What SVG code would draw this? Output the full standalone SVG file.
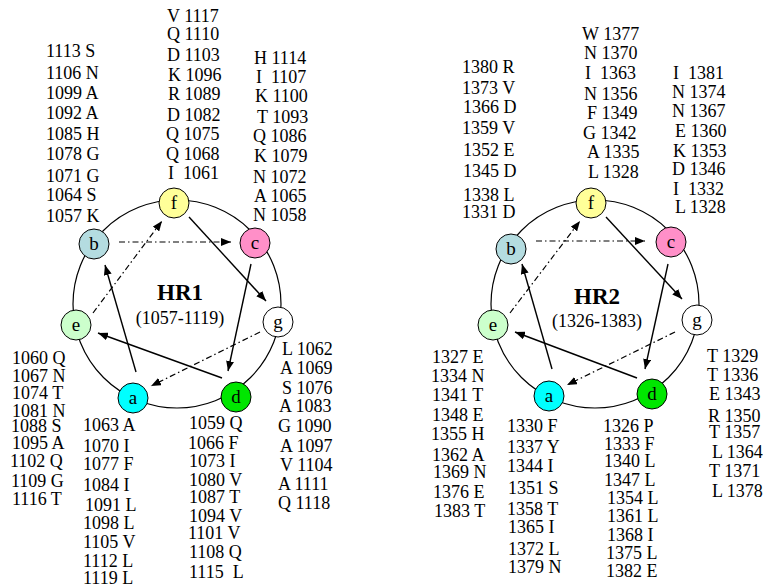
<svg xmlns="http://www.w3.org/2000/svg" width="764" height="587" viewBox="0 0 764 587">
<style>
text{font-family:"Liberation Serif","Times New Roman",serif;font-size:18px;fill:#000;white-space:pre}
.ring{fill:none;stroke:#000;stroke-width:1.2}
.node{stroke:#000;stroke-width:1}
.nl{text-anchor:middle;font-size:19px}
.title{font-weight:bold;font-size:23px;text-anchor:middle}
.range{text-anchor:middle}
.solid{stroke:#000;stroke-width:1.4;fill:none}
.dd{stroke:#000;stroke-width:1.2;fill:none;stroke-dasharray:6 3 1.5 3}
</style>
<defs>
<marker id="ah" markerUnits="userSpaceOnUse" markerWidth="10" markerHeight="8" refX="10" refY="4" orient="auto">
<path d="M0,0 L10,4 L0,8 z" fill="#000"/>
</marker>
</defs>
<rect width="764" height="587" fill="#fff"/>
<circle class="ring" cx="177" cy="304" r="104"/>
<circle class="ring" cx="595" cy="304" r="104"/>
<g id="connectors">
<line class="dd" x1="119" y1="242" x2="231" y2="242" marker-end="url(#ah)"/>
<line class="dd" x1="93" y1="313" x2="162" y2="221" marker-end="url(#ah)"/>
<line class="solid" x1="189" y1="217" x2="266" y2="301" marker-end="url(#ah)"/>
<line class="solid" x1="251" y1="264" x2="228" y2="371" marker-end="url(#ah)"/>
<line class="solid" x1="222" y1="378" x2="98" y2="333" marker-end="url(#ah)"/>
<line class="dd" x1="260" y1="332" x2="151" y2="386" marker-end="url(#ah)"/>
<line class="solid" x1="136" y1="372" x2="105" y2="265" marker-end="url(#ah)"/>
<line class="dd" x1="536" y1="241" x2="645" y2="241" marker-end="url(#ah)"/>
<line class="dd" x1="510" y1="313" x2="580" y2="221" marker-end="url(#ah)"/>
<line class="solid" x1="606" y1="217" x2="682" y2="299" marker-end="url(#ah)"/>
<line class="solid" x1="668" y1="264" x2="645" y2="369" marker-end="url(#ah)"/>
<line class="solid" x1="637" y1="378" x2="515" y2="332" marker-end="url(#ah)"/>
<line class="dd" x1="675" y1="332" x2="567" y2="385" marker-end="url(#ah)"/>
<line class="solid" x1="552" y1="369" x2="522" y2="264" marker-end="url(#ah)"/>
</g>
<g id="hr1-f"><circle class="node" cx="174" cy="203" r="15" fill="#FFFF99"/><text class="nl" x="174" y="209">f</text></g>
<g id="hr1-b"><circle class="node" cx="94" cy="244" r="15" fill="#B4DCE0"/><text class="nl" x="94" y="250">b</text></g>
<g id="hr1-c"><circle class="node" cx="255" cy="243" r="15" fill="#FF8FC8"/><text class="nl" x="255" y="249">c</text></g>
<g id="hr1-e"><circle class="node" cx="76" cy="325" r="15" fill="#CCFFCC"/><text class="nl" x="76" y="331">e</text></g>
<g id="hr1-g"><circle class="node" cx="278" cy="322" r="15" fill="#FFFFFF"/><text class="nl" x="278" y="328">g</text></g>
<g id="hr1-a"><circle class="node" cx="133" cy="398" r="15" fill="#00FFFF"/><text class="nl" x="133" y="404">a</text></g>
<g id="hr1-d"><circle class="node" cx="236" cy="397" r="15" fill="#00E600"/><text class="nl" x="236" y="403">d</text></g>
<g id="hr2-f"><circle class="node" cx="591" cy="203" r="15" fill="#FFFF99"/><text class="nl" x="591" y="209">f</text></g>
<g id="hr2-b"><circle class="node" cx="511" cy="249" r="15" fill="#B4DCE0"/><text class="nl" x="511" y="255">b</text></g>
<g id="hr2-c"><circle class="node" cx="671" cy="242" r="15" fill="#FF8FC8"/><text class="nl" x="671" y="248">c</text></g>
<g id="hr2-e"><circle class="node" cx="493" cy="325" r="15" fill="#CCFFCC"/><text class="nl" x="493" y="331">e</text></g>
<g id="hr2-g"><circle class="node" cx="697" cy="320" r="15" fill="#FFFFFF"/><text class="nl" x="697" y="326">g</text></g>
<g id="hr2-a"><circle class="node" cx="549" cy="396" r="15" fill="#00FFFF"/><text class="nl" x="549" y="402">a</text></g>
<g id="hr2-d"><circle class="node" cx="652" cy="394" r="15" fill="#00E600"/><text class="nl" x="652" y="400">d</text></g>
<g id="hr1-title"><text class="title" x="180" y="300">HR1</text><text class="range" x="180" y="324">(1057-1119)</text></g>
<g id="hr2-title"><text class="title" x="597" y="304">HR2</text><text class="range" x="597" y="327">(1326-1383)</text></g>
<g id="hr1-labels">
<text x="167" y="22">V 1117</text>
<text x="167" y="40">Q 1110</text>
<text x="167" y="61">D 1103</text>
<text x="168" y="81">K 1096</text>
<text x="168" y="100">R 1089</text>
<text x="167" y="121">D 1082</text>
<text x="166" y="140">Q 1075</text>
<text x="166" y="160">Q 1068</text>
<text x="168" y="179">I  1061</text>
<text x="46" y="57">1113 S</text>
<text x="46" y="79">1106 N</text>
<text x="46" y="99">1099 A</text>
<text x="46" y="119">1092 A</text>
<text x="46" y="140">1085 H</text>
<text x="46" y="160">1078 G</text>
<text x="46" y="182">1071 G</text>
<text x="46" y="201">1064 S</text>
<text x="46" y="222">1057 K</text>
<text x="254" y="64">H 1114</text>
<text x="256" y="83">I  1107</text>
<text x="255" y="102">K 1100</text>
<text x="257" y="123">T 1093</text>
<text x="253" y="142">Q 1086</text>
<text x="254" y="162">K 1079</text>
<text x="253" y="183">N 1072</text>
<text x="254" y="202">A 1065</text>
<text x="253" y="221">N 1058</text>
<text x="12" y="364">1060 Q</text>
<text x="12" y="382">1067 N</text>
<text x="12" y="399">1074 T</text>
<text x="12" y="417">1081 N</text>
<text x="11" y="432">1088 S</text>
<text x="12" y="449">1095 A</text>
<text x="10" y="467">1102 Q</text>
<text x="11" y="487">1109 G</text>
<text x="12" y="505">1116 T</text>
<text x="83" y="431">1063 A</text>
<text x="83" y="452">1070 I</text>
<text x="83" y="470">1077 F</text>
<text x="83" y="491">1084 I</text>
<text x="85" y="511">1091 L</text>
<text x="83" y="529">1098 L</text>
<text x="83" y="548">1105 V</text>
<text x="83" y="567">1112 L</text>
<text x="83" y="584">1119 L</text>
<text x="189" y="429">1059 Q</text>
<text x="188" y="449">1066 F</text>
<text x="189" y="467">1073 I</text>
<text x="189" y="486">1080 V</text>
<text x="189" y="503">1087 T</text>
<text x="189" y="522">1094 V</text>
<text x="188" y="539">1101 V</text>
<text x="189" y="558">1108 Q</text>
<text x="189" y="578">1115  L</text>
<text x="282" y="355">L 1062</text>
<text x="280" y="374">A 1069</text>
<text x="282" y="394">S 1076</text>
<text x="279" y="412">A 1083</text>
<text x="278" y="432">G 1090</text>
<text x="280" y="452">A 1097</text>
<text x="280" y="471">V 1104</text>
<text x="278" y="490">A 1111</text>
<text x="278" y="509">Q 1118</text>
</g>
<g id="hr2-labels">
<text x="582" y="40">W 1377</text>
<text x="584" y="59">N 1370</text>
<text x="585" y="79">I  1363</text>
<text x="584" y="100">N 1356</text>
<text x="587" y="119">F 1349</text>
<text x="583" y="139">G 1342</text>
<text x="587" y="158">A 1335</text>
<text x="588" y="178">L 1328</text>
<text x="462" y="73">1380 R</text>
<text x="462" y="94">1373 V</text>
<text x="463" y="113">1366 D</text>
<text x="462" y="134">1359 V</text>
<text x="463" y="156">1352 E</text>
<text x="463" y="177">1345 D</text>
<text x="463" y="201">1338 L</text>
<text x="462" y="218">1331 D</text>
<text x="673" y="79">I  1381</text>
<text x="672" y="98">N 1374</text>
<text x="672" y="117">N 1367</text>
<text x="675" y="137">E 1360</text>
<text x="673" y="157">K 1353</text>
<text x="672" y="175">D 1346</text>
<text x="673" y="195">I  1332</text>
<text x="675" y="213">L 1328</text>
<text x="432" y="363">1327 E</text>
<text x="431" y="382">1334 N</text>
<text x="432" y="401">1341 T</text>
<text x="432" y="421">1348 E</text>
<text x="431" y="440">1355 H</text>
<text x="432" y="461">1362 A</text>
<text x="433" y="478">1369 N</text>
<text x="433" y="498">1376 E</text>
<text x="434" y="517">1383 T</text>
<text x="507" y="432">1330 F</text>
<text x="507" y="453">1337 Y</text>
<text x="507" y="472">1344 I</text>
<text x="508" y="494">1351 S</text>
<text x="507" y="515">1358 T</text>
<text x="508" y="533">1365 I</text>
<text x="508" y="555">1372 L</text>
<text x="508" y="573">1379 N</text>
<text x="603" y="432">1326 P</text>
<text x="604" y="450">1333 F</text>
<text x="604" y="467">1340 L</text>
<text x="604" y="486">1347 L</text>
<text x="607" y="504">1354 L</text>
<text x="607" y="522">1361 L</text>
<text x="607" y="541">1368 I</text>
<text x="606" y="559">1375 L</text>
<text x="606" y="577">1382 E</text>
<text x="707" y="362">T 1329</text>
<text x="707" y="381">T 1336</text>
<text x="709" y="400">E 1343</text>
<text x="708" y="422">R 1350</text>
<text x="709" y="438">T 1357</text>
<text x="712" y="458">L 1364</text>
<text x="709" y="477">T 1371</text>
<text x="712" y="497">L 1378</text>
</g>
</svg>
